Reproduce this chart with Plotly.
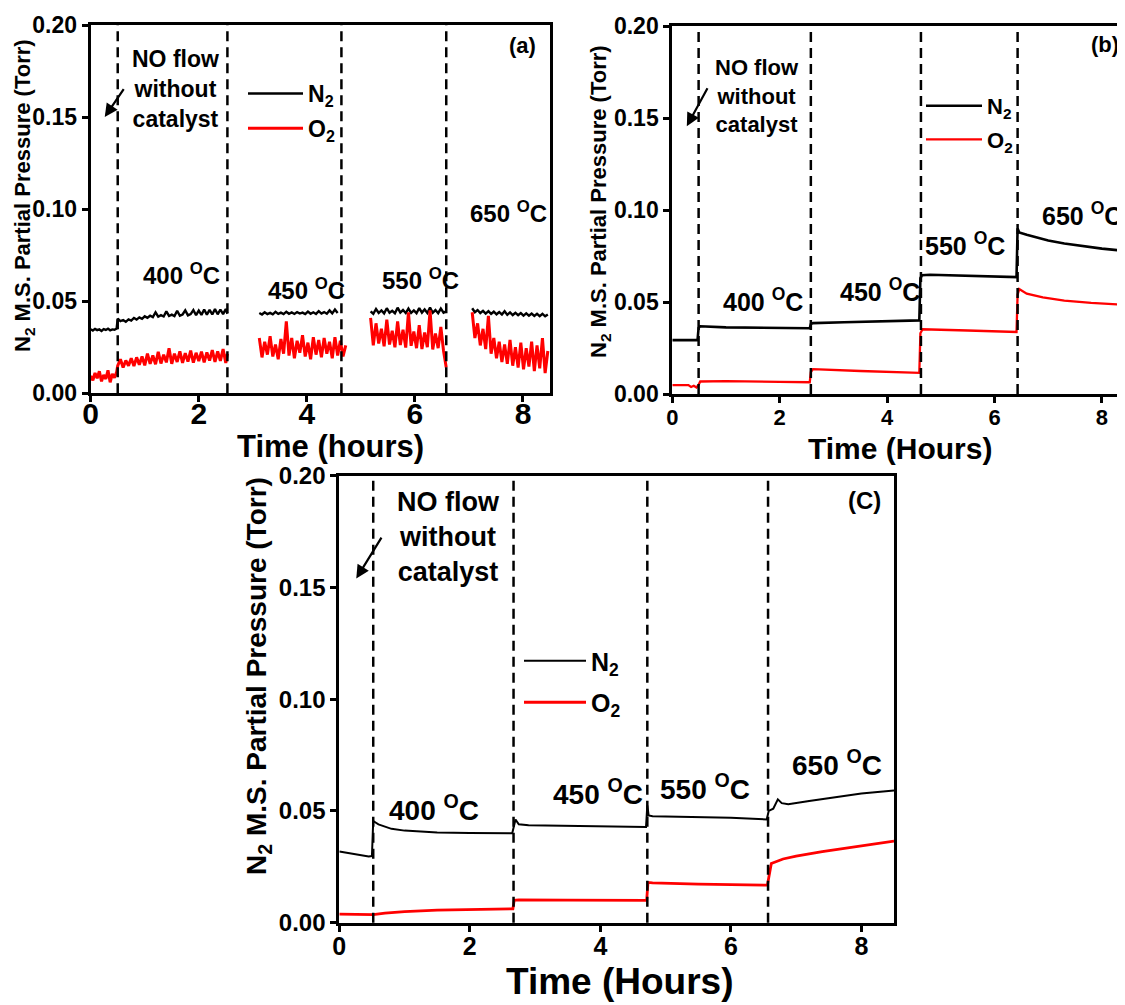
import plotly.graph_objects as go

FONT = "Liberation Sans, Arial, sans-serif"

# ---------------- Panel (a) : noisy MS signal, segments separated by gaps ----------------
T_A0 = [0.00, 0.04, 0.08, 0.12, 0.16, 0.20, 0.24, 0.28, 0.32, 0.36, 0.40, 0.44, 0.48]
N2_A0 = [0.0348, 0.0341, 0.0350, 0.0343, 0.0347, 0.0339, 0.0349, 0.0344, 0.0351, 0.0342, 0.0347, 0.0345, 0.0352]
O2_A0 = [0.0095, 0.0070, 0.0110, 0.0082, 0.0120, 0.0065, 0.0100, 0.0078, 0.0125, 0.0060, 0.0105, 0.0085, 0.0115]

T_A1 = [0.50, 0.55, 0.60, 0.65, 0.70, 0.75, 0.80, 0.85, 0.90, 0.95, 1.00, 1.05, 1.10, 1.15,
        1.20, 1.25, 1.30, 1.35, 1.40, 1.45, 1.50, 1.55, 1.60, 1.65, 1.70, 1.75, 1.80, 1.85,
        1.90, 1.95, 2.00, 2.05, 2.10, 2.15, 2.20, 2.25, 2.30, 2.35, 2.40, 2.45, 2.50, 2.53]
N2_A1 = [0.0405, 0.0392, 0.0398, 0.0388, 0.0401, 0.0395, 0.0409, 0.0400, 0.0412, 0.0404, 0.0418,
         0.0410, 0.0421, 0.0414, 0.0440, 0.0416, 0.0424, 0.0417, 0.0445, 0.0420, 0.0427, 0.0419,
         0.0448, 0.0421, 0.0428, 0.0450, 0.0423, 0.0430, 0.0452, 0.0424, 0.0449, 0.0426, 0.0455,
         0.0427, 0.0453, 0.0428, 0.0457, 0.0429, 0.0455, 0.0430, 0.0458, 0.0432]
O2_A1 = [0.0150, 0.0185, 0.0140, 0.0178, 0.0150, 0.0190, 0.0148, 0.0195, 0.0155, 0.0200, 0.0152,
         0.0215, 0.0160, 0.0205, 0.0158, 0.0225, 0.0162, 0.0210, 0.0168, 0.0245, 0.0160, 0.0215,
         0.0170, 0.0228, 0.0165, 0.0218, 0.0172, 0.0232, 0.0166, 0.0220, 0.0175, 0.0226, 0.0168,
         0.0222, 0.0178, 0.0235, 0.0170, 0.0228, 0.0176, 0.0240, 0.0165, 0.0215]

T_A2 = [3.12, 3.17, 3.22, 3.27, 3.32, 3.37, 3.42, 3.47, 3.52, 3.57, 3.62, 3.67, 3.72, 3.77,
        3.82, 3.87, 3.92, 3.97, 4.02, 4.07, 4.12, 4.17, 4.22, 4.27, 4.32, 4.37, 4.42, 4.47,
        4.52, 4.57, 4.62, 4.67, 4.72]
N2_A2 = [0.0436, 0.0428, 0.0440, 0.0430, 0.0437, 0.0429, 0.0442, 0.0431, 0.0438, 0.0430, 0.0443,
         0.0432, 0.0439, 0.0431, 0.0441, 0.0433, 0.0438, 0.0430, 0.0444, 0.0432, 0.0440, 0.0431,
         0.0446, 0.0433, 0.0441, 0.0432, 0.0450, 0.0434, 0.0455, 0.0436, None, None, None]
O2_A2 = [0.0300, 0.0195, 0.0280, 0.0210, 0.0310, 0.0200, 0.0265, 0.0185, 0.0295, 0.0215, 0.0390,
         0.0205, 0.0300, 0.0190, 0.0285, 0.0220, 0.0315, 0.0200, 0.0275, 0.0185, 0.0305, 0.0210,
         0.0290, 0.0195, 0.0300, 0.0215, 0.0280, 0.0190, 0.0305, 0.0205, 0.0285, 0.0200, 0.0260]

T_A3 = [5.18, 5.23, 5.28, 5.33, 5.38, 5.43, 5.48, 5.53, 5.58, 5.63, 5.68, 5.73, 5.78, 5.83,
        5.88, 5.93, 5.98, 6.03, 6.08, 6.13, 6.18, 6.23, 6.28, 6.33, 6.38, 6.43, 6.48, 6.53, 6.58]
N2_A3 = [0.0445, 0.0432, 0.0458, 0.0436, 0.0450, 0.0434, 0.0462, 0.0437, 0.0448, 0.0435, 0.0465,
         0.0438, 0.0452, 0.0436, 0.0460, 0.0437, 0.0450, 0.0435, 0.0463, 0.0438, 0.0455, 0.0436,
         0.0466, 0.0437, 0.0452, 0.0435, 0.0460, 0.0438, 0.0445]
O2_A3 = [0.0410, 0.0260, 0.0380, 0.0270, 0.0350, 0.0255, 0.0400, 0.0265, 0.0340, 0.0250, 0.0390,
         0.0262, 0.0345, 0.0248, 0.0440, 0.0258, 0.0335, 0.0245, 0.0370, 0.0240, 0.0330, 0.0250,
         0.0450, 0.0238, 0.0325, 0.0245, 0.0360, 0.0230, 0.0140]

T_A4 = [7.06, 7.11, 7.16, 7.21, 7.26, 7.31, 7.36, 7.41, 7.46, 7.51, 7.56, 7.61, 7.66, 7.71,
        7.76, 7.81, 7.86, 7.91, 7.96, 8.01, 8.06, 8.11, 8.16, 8.21, 8.26, 8.31, 8.36, 8.41, 8.46]
N2_A4 = [0.0462, 0.0440, 0.0452, 0.0436, 0.0448, 0.0433, 0.0446, 0.0431, 0.0443, 0.0429, 0.0441,
         0.0428, 0.0446, 0.0426, 0.0439, 0.0425, 0.0437, 0.0424, 0.0436, 0.0422, 0.0434, 0.0421,
         0.0433, 0.0420, 0.0432, 0.0419, 0.0431, 0.0418, 0.0428]
O2_A4 = [0.0440, 0.0300, 0.0380, 0.0260, 0.0350, 0.0240, 0.0420, 0.0215, 0.0300, 0.0190, 0.0280,
         0.0170, 0.0265, 0.0160, 0.0290, 0.0150, 0.0250, 0.0140, 0.0275, 0.0130, 0.0245, 0.0145,
         0.0280, 0.0120, 0.0260, 0.0135, 0.0300, 0.0110, 0.0230]

SWITCH_A = [0.50, 2.53, 4.64, 6.58]

# ---------------- Panel (b) ----------------
T_N2_B = [0.00, 0.47, 0.49, 0.52, 1.00, 1.50, 2.00, 2.56, 2.58, 2.62, 3.20, 3.80, 4.60, 4.62,
          4.65, 4.80, 5.50, 6.00, 6.41, 6.43, 6.46, 6.60, 6.80, 7.00, 7.30, 7.60, 8.00, 8.43]
N2_B = [0.0293, 0.0293, 0.0360, 0.0368, 0.0362, 0.0360, 0.0359, 0.0357, 0.0380, 0.0385, 0.0390,
        0.0395, 0.0400, 0.0630, 0.0645, 0.0648, 0.0644, 0.0641, 0.0635, 0.0900, 0.0878, 0.0865,
        0.0850, 0.0834, 0.0818, 0.0805, 0.0790, 0.0778]
T_O2_B = [0.00, 0.30, 0.35, 0.40, 0.45, 0.49, 0.52, 1.00, 2.00, 2.56, 2.58, 2.62, 3.50, 4.60,
          4.62, 4.66, 5.50, 6.41, 6.43, 6.46, 6.60, 6.90, 7.30, 7.80, 8.43]
O2_B = [0.0048, 0.0048, 0.0038, 0.0045, 0.0035, 0.0050, 0.0068, 0.0070, 0.0066, 0.0064, 0.0120,
        0.0135, 0.0125, 0.0115, 0.0330, 0.0352, 0.0345, 0.0337, 0.0540, 0.0570, 0.0545, 0.0525,
        0.0508, 0.0495, 0.0485]
SWITCH_B = [0.49, 2.58, 4.63, 6.43]

# ---------------- Panel (c) ----------------
T_N2_C = [0.00, 0.20, 0.45, 0.50, 0.52, 0.60, 0.80, 1.00, 1.50, 2.00, 2.60, 2.65, 2.70, 2.75,
          2.90, 3.50, 4.00, 4.70, 4.72, 4.74, 4.80, 5.50, 6.00, 6.55, 6.58, 6.65, 6.72, 6.78,
          6.88, 7.20, 7.60, 8.00, 8.50]
N2_C = [0.0319, 0.0310, 0.0296, 0.0298, 0.0455, 0.0440, 0.0420, 0.0412, 0.0404, 0.0401, 0.0398,
        0.0400, 0.0462, 0.0440, 0.0436, 0.0434, 0.0432, 0.0428, 0.0525, 0.0480, 0.0476, 0.0472,
        0.0470, 0.0462, 0.0500, 0.0510, 0.0552, 0.0535, 0.0530, 0.0545, 0.0562, 0.0578, 0.0592]
T_O2_C = [0.00, 0.30, 0.50, 0.52, 0.70, 1.00, 1.50, 2.00, 2.66, 2.68, 2.75, 3.50, 4.71, 4.73,
          4.80, 5.50, 6.56, 6.58, 6.62, 6.80, 7.00, 7.40, 7.80, 8.20, 8.50]
O2_C = [0.0038, 0.0037, 0.0035, 0.0036, 0.0043, 0.0050, 0.0056, 0.0059, 0.0062, 0.0100, 0.0102,
        0.0101, 0.0100, 0.0180, 0.0178, 0.0173, 0.0168, 0.0200, 0.0265, 0.0285, 0.0298, 0.0318,
        0.0335, 0.0350, 0.0365]
SWITCH_C = [0.52, 2.67, 4.72, 6.57]

# ---------------- labels ----------------
TEMPS = ["400 <sup>O</sup>C", "450 <sup>O</sup>C", "550 <sup>O</sup>C", "650 <sup>O</sup>C"]
TEMP_POS_A = [(1.68, 0.0646), (4.00, 0.0564), (6.10, 0.0618), (7.74, 0.0984)]
TEMP_POS_B = [(1.68, 0.0510), (3.87, 0.0565), (5.45, 0.0815), (7.62, 0.0980)]
TEMP_POS_C = [(1.45, 0.0514), (3.96, 0.0584), (5.61, 0.0607), (7.62, 0.0716)]
NOTE = "NO flow<br>without<br>catalyst"
YTITLE = "N<sub>2</sub> M.S. Partial Pressure (Torr)"
XTITLES = ["Time (hours)", "Time (Hours)", "Time (Hours)"]
Y_TICKS = [0.00, 0.05, 0.10, 0.15, 0.20]
X_TICKS = [0, 2, 4, 6, 8]

# ---------------- page geometry (the page body has an 8px margin) ----------------
OFF = 8
W, H = 1125 - OFF, 1005 - OFF


def px(X):
    return (X - OFF) / W


def py(Y):
    return 1 - (Y - OFF) / H


def join_segments(segs):
    out = []
    for i, s in enumerate(segs):
        if i:
            out.append(None)
        out.extend(s)
    return out


T_A = join_segments([T_A0 + T_A1, T_A2, T_A3, T_A4])
N2_A = join_segments([N2_A0 + N2_A1, N2_A2, N2_A3, N2_A4])
O2_A = join_segments([O2_A0 + O2_A1, O2_A2, O2_A3, O2_A4])

fig = go.Figure()

BLACK = "#000000"
RED = "#ff0000"

fig.add_trace(go.Scatter(x=T_A, y=N2_A, mode="lines", name="N<sub>2</sub>", legend="legend",
                         line=dict(color=BLACK, width=2.4), xaxis="x", yaxis="y", legendgroup="a1"))
fig.add_trace(go.Scatter(x=T_A, y=O2_A, mode="lines", name="O<sub>2</sub>", legend="legend",
                         line=dict(color=RED, width=3.0), xaxis="x", yaxis="y", legendgroup="a2"))
fig.add_trace(go.Scatter(x=T_N2_B, y=N2_B, mode="lines", name="N<sub>2</sub>", legend="legend2",
                         line=dict(color=BLACK, width=2.6), xaxis="x2", yaxis="y2", legendgroup="b1"))
fig.add_trace(go.Scatter(x=T_O2_B, y=O2_B, mode="lines", name="O<sub>2</sub>", legend="legend2",
                         line=dict(color=RED, width=2.3), xaxis="x2", yaxis="y2", legendgroup="b2"))
fig.add_trace(go.Scatter(x=T_N2_C, y=N2_C, mode="lines", name="N<sub>2</sub>", legend="legend3",
                         line=dict(color=BLACK, width=2.0), xaxis="x3", yaxis="y3", legendgroup="c1"))
fig.add_trace(go.Scatter(x=T_O2_C, y=O2_C, mode="lines", name="O<sub>2</sub>", legend="legend3",
                         line=dict(color=RED, width=2.8), xaxis="x3", yaxis="y3", legendgroup="c2"))


def font(size):
    return dict(family=FONT, size=size, color="black", weight="bold")


def xaxis(domain, anchor, rng, tsize, standoff, mirror=True):
    return dict(domain=domain, anchor=anchor, range=rng, tickvals=X_TICKS, ticks="outside",
                ticklen=6, tickwidth=2.5, tickcolor="black", showline=True, linewidth=3,
                linecolor="black", mirror=mirror, showgrid=False, zeroline=False,
                tickfont=font(tsize), automargin=False, ticklabelstandoff=standoff)


def yaxis(domain, anchor, tsize, mirror=True):
    return dict(domain=domain, anchor=anchor, range=[0, 0.2], tickvals=Y_TICKS, tickformat=".2f",
                ticks="outside", ticklen=6, tickwidth=2.5, tickcolor="black", showline=True,
                linewidth=3, linecolor="black", mirror=mirror, showgrid=False, zeroline=False,
                tickfont=font(tsize), automargin=False)


fig.update_layout(
    width=W, height=H,
    margin=dict(l=0, r=0, t=0, b=0),
    paper_bgcolor="white", plot_bgcolor="white",
    xaxis=xaxis([px(90.7), px(550)], "y", [0, 8.5], 30, -14),
    yaxis=yaxis([py(393.3), py(25)], "x", 23),
    xaxis2=xaxis([px(672.3), 1.0], "y2", [0, 8.43], 22, -4),
    yaxis2=yaxis([py(394), py(26)], "x2", 23, mirror=False),
    xaxis3=xaxis([px(339.3), px(894)], "y3", [0, 8.5], 25, -7),
    yaxis3=yaxis([py(922.7), py(475.7)], "x3", 24),
    legend=dict(x=px(243), y=py(72), xanchor="left", yanchor="top", bgcolor="rgba(0,0,0,0)",
                font=font(23), tracegroupgap=2, itemwidth=55),
    legend2=dict(x=px(921), y=py(85), xanchor="left", yanchor="top", bgcolor="rgba(0,0,0,0)",
                 font=font(22), tracegroupgap=2, itemwidth=56),
    legend3=dict(x=px(519), y=py(638), xanchor="left", yanchor="top", bgcolor="rgba(0,0,0,0)",
                 font=font(25), tracegroupgap=6, itemwidth=62),
)

# axis titles (placed in page pixels)
XTITLE_POS = [((330, 446), 31), ((900, 448), 30), ((620, 981), 37)]
YTITLE_POS = [((24, 196), 22), ((600, 202), 22), ((258, 676), 28)]
for txt, ((X, Y), s) in zip(XTITLES, XTITLE_POS):
    fig.add_annotation(xref="paper", yref="paper", x=px(X), y=py(Y), text=txt, showarrow=False,
                       font=font(s), xanchor="center", yanchor="middle")
for (X, Y), s in YTITLE_POS:
    fig.add_annotation(xref="paper", yref="paper", x=px(X), y=py(Y), text=YTITLE, showarrow=False,
                       font=font(s), textangle=-90, xanchor="center", yanchor="middle")

panels = [
    ("x", "y", SWITCH_A, TEMP_POS_A, 24, 23, (1.57, 0.1650), (0.26, 0.150), (0.63, 0.166), "(a)", (8.0, 0.189), 22),
    ("x2", "y2", SWITCH_B, TEMP_POS_B, 25, 22, (1.58, 0.1620), (0.27, 0.1455), (0.67, 0.167), "(b)", (8.05, 0.190), 22),
    ("x3", "y3", SWITCH_C, TEMP_POS_C, 28, 27, (1.68, 0.1725), (0.26, 0.154), (0.66, 0.173), "(C)", (8.05, 0.189), 24),
]

for xr, yr, switches, tpos, tsize, nsize, npos, head, tail, plabel, ppos, psize in panels:
    for t in switches:
        fig.add_shape(type="line", xref=xr, yref=yr + " domain", x0=t, x1=t, y0=0, y1=1,
                      line=dict(color="black", width=2.5, dash="10px,6px"))
    for txt, (tx, ty) in zip(TEMPS, tpos):
        fig.add_annotation(xref=xr, yref=yr, x=tx, y=ty, text=txt, showarrow=False, font=font(tsize))
    fig.add_annotation(xref=xr, yref=yr, x=npos[0], y=npos[1], text=NOTE, showarrow=False,
                       font=font(nsize), align="center")
    fig.add_annotation(xref=xr, yref=yr, x=head[0], y=head[1], axref=xr, ayref=yr,
                       ax=tail[0], ay=tail[1], text="", showarrow=True, arrowhead=2,
                       arrowsize=1.2, arrowwidth=2.2, arrowcolor="black")
    fig.add_annotation(xref=xr, yref=yr, x=ppos[0], y=ppos[1], text=plabel, showarrow=False,
                       font=font(psize))

fig.write_html("out.html")
